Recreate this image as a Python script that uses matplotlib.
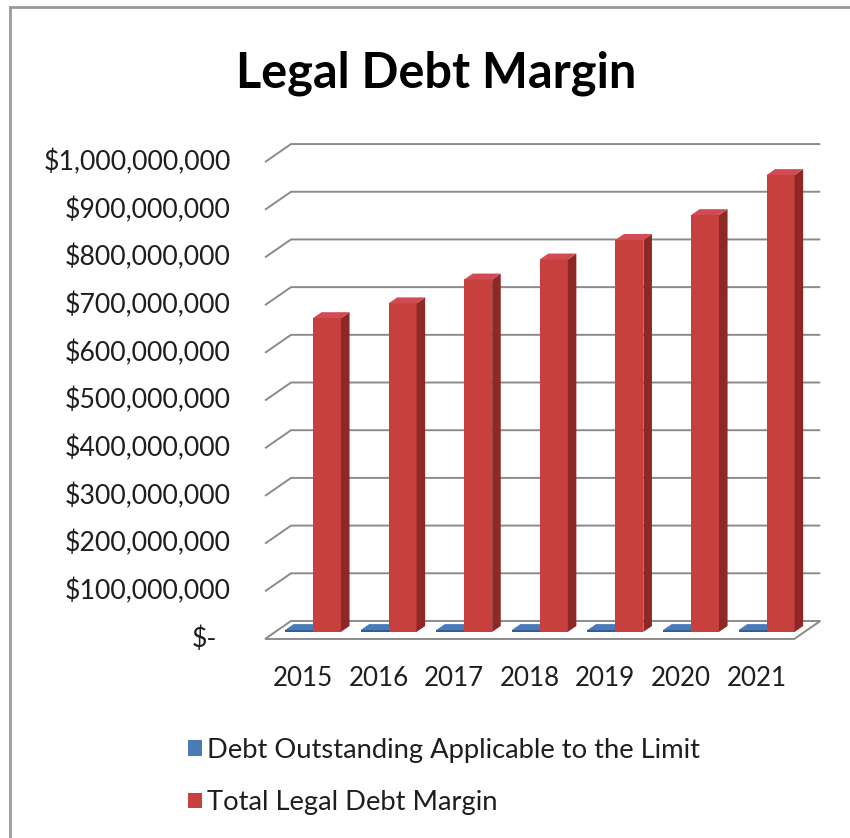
import matplotlib
matplotlib.use('Agg')
import matplotlib.pyplot as plt
from matplotlib.patches import Polygon, Patch
from matplotlib.lines import Line2D

plt.rcParams['font.family'] = ['Lato', 'DejaVu Sans']

# Data
years = ['2015', '2016', '2017', '2018', '2019', '2020', '2021']
debt_outstanding = [4e6, 4e6, 4e6, 4e6, 4e6, 4e6, 4e6]
legal_margin = [658e6, 689e6, 739e6, 781e6, 822e6, 874e6, 958e6]
series_names = ['Debt Outstanding Applicable to the Limit', 'Total Legal Debt Margin']
yticks = [i * 100e6 for i in range(11)]

# face colours: front, side, top
blue = ('#2f5f96', '#1f4270', '#4a7bb8')
red = ('#c8403d', '#8e2826', '#d34b52')
text_c = '#1e1e1e'
grid_c = '#8a8a8a'

# oblique "3-D" projection: depth z in [0, 1] shifts right / up
DX = 0.344          # categories per unit depth
DY = 37.7e6         # value units per unit depth
Z0, Z1 = 0.39, 0.72  # bar depth span
BW = 0.37            # bar width in categories
GAP = (1 - 2 * BW) / 2

def P(x, v, z):
    return (x + z * DX, v + z * DY)

fig = plt.figure(figsize=(8.5, 8.38), dpi=100)
ax = fig.add_axes([0.294, 0.1806, 0.6938, 0.6545])
ax.set_xlim(-0.2, 7.6)
ax.set_ylim(-100e6, 1050e6)
ax.axis('off')

n = len(years)

# floor
floor = Polygon([P(0, 0, 0), P(n, 0, 0), P(n, 0, 1), P(0, 0, 1)], closed=True,
                facecolor='white', edgecolor=grid_c, lw=1.4, zorder=1)
ax.add_patch(floor)

# gridlines on the side wall and back wall
for v in yticks[1:]:
    xs = [P(0, v, 0)[0], P(0, v, 1)[0], P(n, v, 1)[0]]
    ys = [P(0, v, 0)[1], P(0, v, 1)[1], P(n, v, 1)[1]]
    ax.plot(xs, ys, color=grid_c, lw=1.4, zorder=1, solid_capstyle='butt')

def bar3d(x, h, cols, zo):
    front, side, top = cols
    ax.add_patch(Polygon([P(x, 0, Z0), P(x + BW, 0, Z0), P(x + BW, h, Z0), P(x, h, Z0)],
                         closed=True, facecolor=front, edgecolor='none', zorder=zo))
    ax.add_patch(Polygon([P(x + BW, 0, Z0), P(x + BW, 0, Z1), P(x + BW, h, Z1), P(x + BW, h, Z0)],
                         closed=True, facecolor=side, edgecolor='none', zorder=zo))
    ax.add_patch(Polygon([P(x, h, Z0), P(x + BW, h, Z0), P(x + BW, h, Z1), P(x, h, Z1)],
                         closed=True, facecolor=top, edgecolor='none', zorder=zo))

for i in range(n):
    bar3d(i + GAP, debt_outstanding[i], blue, 2 + 2 * i)
    bar3d(i + GAP + BW, legal_margin[i], red, 3 + 2 * i)

# value labels
for v in yticks:
    if v == 0:
        ax.text(-0.63, v, '$-', ha='right', va='center', fontsize=19.2, color=text_c)
    else:
        ax.text(-0.45, v, f'${v:,.0f}', ha='right', va='center', fontsize=19.2, color=text_c)

for i, yr in enumerate(years):
    ax.text(i + 0.5, -82e6, yr, ha='center', va='center', fontsize=18.7, color=text_c)

fig.text(0.5135, 1 - 73 / 838, 'Legal Debt Margin', ha='center', va='center',
         fontsize=35, fontweight='bold', color='black')

handles = [Patch(facecolor='#4a7bb8', edgecolor='none'), Patch(facecolor=red[0], edgecolor='none')]
fig.legend(handles, series_names, loc='upper left', bbox_to_anchor=(188 / 850, 1 - 738 / 838),
           frameon=False, fontsize=19.7, handlelength=0.5, handleheight=0.5,
           handletextpad=0.2, labelspacing=1.0, borderpad=0, borderaxespad=0,
           labelcolor=text_c)

# outer chart border (left and top edges)
fig.add_artist(Line2D([10 / 850, 10 / 850], [0, 1 - 7 / 838], transform=fig.transFigure,
                      color='#9a9a9a', lw=2))
fig.add_artist(Line2D([10 / 850, 1], [1 - 7 / 838, 1 - 7 / 838], transform=fig.transFigure,
                      color='#9a9a9a', lw=2))

fig.savefig('out.png', dpi=100, facecolor='white')
plt.close()
